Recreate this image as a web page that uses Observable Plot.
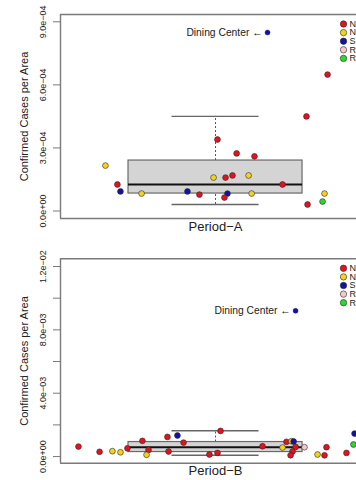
<!DOCTYPE html>
<html><head><meta charset="utf-8">
<script src="https://cdn.jsdelivr.net/npm/d3@7"></script>
<script src="https://cdn.jsdelivr.net/npm/@observablehq/plot@0.6"></script>
<style>
body{margin:0;background:#fff;font-family:"Liberation Sans",Arial,Helvetica,sans-serif;}
svg{display:block;overflow:hidden}
</style>
</head><body><div id="chart"></div>
<script>
// ---- data ----
const periods = ["Period\u2212A", "Period\u2212B"];
const yTitle = "Confirmed Cases per Area";
// legend labels: only their first letters are visible in the (cropped) reference
const groupLabels = ["N", "N", "S", "R", "R"];
const groupColors = ["#e3121c", "#f2d31e", "#1212a8", "#f7c6cf", "#2fd62f"];
const diningLabel = "Dining Center \u2190";

// Period-A (jittered x position around category 1, value, group index)
const aX = [1.515, 1.418, 1.009, 1.097, 1.179, 0.991, 1.046, 1.078, 1.152, 1.308, 0.871, 0.926, 1.055, 1.041, 1.166, 1.423, 1.501, 1.492, 0.494, 0.549, 0.563, 0.660];
const aY = [6.49e-4, 4.5e-4, 3.40e-4, 2.74e-4, 2.6e-4, 1.59e-4, 1.59e-4, 1.69e-4, 1.69e-4, 1.26e-4, 9.3e-5, 7.8e-5, 8.3e-5, 6.4e-5, 8.3e-5, 3.1e-5, 8.3e-5, 4.5e-5, 2.16e-4, 1.26e-4, 9.3e-5, 8.3e-5];
const aG = [0, 0, 0, 0, 0, 1, 0, 0, 1, 0, 2, 0, 2, 0, 1, 0, 1, 4, 1, 0, 2, 1];
const aDining = [1.239, 8.49e-4];
// box stats: lower whisker, q1, median, q3, upper whisker
const aBox = [3.1e-5, 8.3e-5, 1.26e-4, 2.40e-4, 4.5e-4];
const aTicks = [0, 3e-4, 6e-4, 9e-4];
const aTickLabels = [0, 3e-4, 6e-4, 9e-4];
const aDomain = [-3.57e-5, 9.347e-4];

// Period-B
const bX = [0.370, 0.467, 0.526, 0.563, 0.595, 0.664, 0.692, 0.683, 0.779, 0.825, 0.784, 0.853, 0.972, 1.009, 1.023, 1.216, 1.326, 1.349, 1.359, 1.308, 1.368, 1.354, 1.345, 1.409, 1.469, 1.501, 1.510, 1.602, 1.639, 1.634];
const bY = [6.3e-4, 3.0e-4, 3.4e-4, 2.7e-4, 5.2e-4, 9.9e-4, 4.2e-4, 1.1e-4, 1.24e-3, 1.33e-3, 3.2e-4, 8.8e-4, 1.3e-4, 2.3e-4, 1.62e-3, 6.5e-4, 9.3e-4, 9.7e-4, 9.5e-4, 5.7e-4, 6.1e-4, 3.2e-4, 8e-5, 5.9e-4, 1.3e-4, 8e-5, 5.9e-4, 2.3e-4, 1.45e-3, 7.6e-4];
const bG = [0, 0, 1, 1, 0, 0, 0, 1, 0, 2, 0, 0, 0, 0, 0, 0, 0, 1, 2, 1, 0, 0, 0, 3, 1, 0, 0, 0, 2, 4];
const bDining = [1.368, 9.2e-3];
const bBox = [8.2e-5, 2.84e-4, 5.87e-4, 9.16e-4, 1.63e-3];
const bTicks = [0, 2e-3, 4e-3, 6e-3, 8e-3, 1e-2, 1.2e-2];
const bTickLabels = [0, 4e-3, 8e-3, 1.2e-2];
const bDomain = [-4.2e-4, 1.2487e-2];

const xDomain = [0.2874, 1.648];
const center = 1, boxWidth = 0.8, capWidth = 0.4;

function fmt(v) {
  const [m, e] = v.toExponential(1).split("e");
  const sign = e[0] === "-" ? "\u2212" : "+";
  const digits = e.replace(/^[+-]/, "").padStart(2, "0");
  return m + "e" + sign + digits;
}

const font = '"Liberation Sans", Arial, Helvetica, sans-serif';
const frameColor = "#7a7a7a";
const textColor = "#222";

function panel(o) {
  const idx = o.xs.map((_, i) => i);
  const [lo, q1, med, q3, hi] = o.box;
  return Plot.plot({
    width: 356, height: 240,
    marginLeft: 60, marginRight: 0, marginTop: o.marginTop, marginBottom: o.marginBottom,
    style: {fontFamily: font, background: "white", overflow: "hidden"},
    x: {domain: xDomain, axis: null},
    y: {domain: o.domain},
    color: {type: "identity"},
    marks: [
      Plot.axisY(o.ticks, {tickSize: 7, tickFormat: () => "", stroke: frameColor, strokeWidth: 1, label: null}),
      Plot.text(o.tickLabels, {y: d => d, text: d => fmt(d), frameAnchor: "left", dx: -17, rotate: -90, textAnchor: "middle", lineAnchor: "middle", fontSize: 9, fill: textColor}),
      Plot.text([yTitle], {frameAnchor: "left", dx: -36, rotate: -90, textAnchor: "middle", lineAnchor: "middle", fontSize: 11, fill: textColor}),
      Plot.text([o.label], {x: [center], text: d => d, frameAnchor: "bottom", dy: o.labelDy, lineAnchor: "middle", fontSize: 13, fill: textColor}),
      // box plot
      Plot.ruleX([center], {y1: q3, y2: hi, stroke: "#555", strokeDasharray: "2,2", strokeWidth: 1}),
      Plot.ruleX([center], {y1: lo, y2: q1, stroke: "#555", strokeDasharray: "2,2", strokeWidth: 1}),
      Plot.ruleY([hi, lo], {x1: center - capWidth / 2, x2: center + capWidth / 2, stroke: "#666", strokeWidth: 1.4}),
      Plot.rect([0], {x1: center - boxWidth / 2, x2: center + boxWidth / 2, y1: q1, y2: q3, fill: "#d4d4d4", stroke: "#6a6a6a", strokeWidth: 1.2}),
      Plot.ruleY([med], {x1: center - boxWidth / 2, x2: center + boxWidth / 2, stroke: "#111", strokeWidth: 2.2}),
      // frame (left, top, bottom)
      Plot.ruleY(o.domain, {stroke: frameColor, strokeWidth: 1.4}),
      Plot.ruleX([xDomain[0]], {stroke: frameColor, strokeWidth: 1.4}),
      // points
      Plot.dot(idx, {x: i => o.xs[i], y: i => o.ys[i], fill: i => groupColors[o.gs[i]], r: 2.9, stroke: "#2a2a2a", strokeWidth: 0.6}),
      Plot.dot([o.dining], {x: d => d[0], y: d => d[1], fill: groupColors[2], r: 2.5, stroke: "#1a1a60", strokeWidth: 0.4}),
      Plot.text([o.dining], {x: d => d[0], y: d => d[1], text: () => diningLabel, textAnchor: "end", dx: -5, fontSize: 10.3, fill: textColor}),
      // legend
      ...groupLabels.map((g, i) => Plot.dot([g], {frameAnchor: "top-right", dx: -13, dy: 9.5 + i * 8.6, r: 3.2, fill: groupColors[i], stroke: "#2a2a2a", strokeWidth: 0.6})),
      ...groupLabels.map((g, i) => Plot.text([g], {frameAnchor: "top-right", dx: -7, dy: 9.5 + i * 8.6, text: d => d, textAnchor: "start", lineAnchor: "middle", fontSize: 9, fill: textColor}))
    ]
  });
}

const root = document.getElementById("chart");
root.appendChild(panel({xs: aX, ys: aY, gs: aG, dining: aDining, box: aBox, domain: aDomain, ticks: aTicks, tickLabels: aTickLabels, label: periods[0], marginTop: 14, marginBottom: 22, labelDy: 8}));
root.appendChild(panel({xs: bX, ys: bY, gs: bG, dining: bDining, box: bBox, domain: bDomain, ticks: bTicks, tickLabels: bTickLabels, label: periods[1], marginTop: 18.3, marginBottom: 17.3, labelDy: 7.5}));
</script>
</body></html>
